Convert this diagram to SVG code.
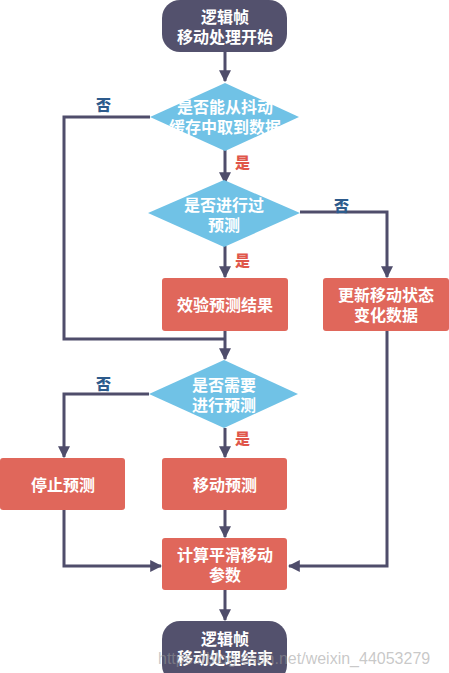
<svg xmlns="http://www.w3.org/2000/svg" width="449" height="673" viewBox="0 0 449 673">
<defs>
<style>
.term{fill:#53516d}
.dia{fill:#70c2e6}
.box{fill:#e0675b}
.t{font-family:"Noto Sans CJK SC","Noto Sans",sans-serif;font-weight:bold;font-size:16px;fill:#fff;text-anchor:middle}
.yes{font-family:"Noto Sans CJK SC",sans-serif;font-weight:900;font-size:15px;fill:#e0564a}
.no{font-family:"Noto Sans CJK SC",sans-serif;font-weight:900;font-size:15px;fill:#2d5b8c}
.ln{fill:none;stroke:#4f4d6b;stroke-width:3}
</style>
<marker id="ah" viewBox="0 0 10 10" refX="9" refY="5" markerWidth="4" markerHeight="4" markerUnits="strokeWidth" orient="auto">
<path d="M0,0 L10,5 L0,10 z" fill="#4f4d6b"/>
</marker>
</defs>
<rect width="449" height="673" fill="#fff"/>
<g id="connectors">
<path class="ln" d="M225,52 V81" marker-end="url(#ah)"/>
<path class="ln" d="M225,150 V183" marker-end="url(#ah)"/>
<path class="ln" d="M150,117 H64 V339 H225"/>
<path class="ln" d="M225,246 V277" marker-end="url(#ah)"/>
<path class="ln" d="M300,212 H387 V277" marker-end="url(#ah)"/>
<path class="ln" d="M225,331 V359" marker-end="url(#ah)"/>
<path class="ln" d="M225,428 V457" marker-end="url(#ah)"/>
<path class="ln" d="M149,394 H64 V457" marker-end="url(#ah)"/>
<path class="ln" d="M225,510 V537" marker-end="url(#ah)"/>
<path class="ln" d="M64,510 V566 H161" marker-end="url(#ah)"/>
<path class="ln" d="M387,331 V566 H289" marker-end="url(#ah)"/>
<path class="ln" d="M225,590 V620" marker-end="url(#ah)"/>
</g>
<g id="start">
<rect class="term" x="162" y="0" width="125" height="52" rx="18"/>
<text class="t" x="225" y="23">逻辑帧</text>
<text class="t" x="225" y="43">移动处理开始</text>
</g>
<g id="d1">
<polygon class="dia" points="225,83 299,117 225,151 150,117"/>
<text class="t" x="225" y="113">是否能从抖动</text>
<text class="t" x="225" y="133">缓存中取到数据</text>
</g>
<g id="d2">
<polygon class="dia" points="224,180 300,213 224,247 148,213"/>
<text class="t" x="224" y="211">是否进行过</text>
<text class="t" x="224" y="231">预测</text>
</g>
<g id="b1">
<rect class="box" x="162" y="278" width="126" height="53" rx="3"/>
<text class="t" x="225" y="311">效验预测结果</text>
</g>
<g id="b2">
<rect class="box" x="323" y="278" width="126" height="53" rx="3"/>
<text class="t" x="386" y="301">更新移动状态</text>
<text class="t" x="386" y="321">变化数据</text>
</g>
<g id="d3">
<polygon class="dia" points="224,360 298,394 224,428 149,394"/>
<text class="t" x="224" y="391">是否需要</text>
<text class="t" x="224" y="411">进行预测</text>
</g>
<g id="b3">
<rect class="box" x="0" y="458" width="125" height="52" rx="3"/>
<text class="t" x="63" y="491">停止预测</text>
</g>
<g id="b4">
<rect class="box" x="162" y="458" width="125" height="52" rx="3"/>
<text class="t" x="225" y="491">移动预测</text>
</g>
<g id="b5">
<rect class="box" x="162" y="538" width="125" height="52" rx="3"/>
<text class="t" x="225" y="561">计算平滑移动</text>
<text class="t" x="225" y="581">参数</text>
</g>
<g id="end">
<rect class="term" x="162" y="621" width="125" height="62" rx="18"/>
<text class="t" x="225" y="645">逻辑帧</text>
<text class="t" x="225" y="664">移动处理结束</text>
</g>
<g id="labels">
<text class="no" x="96" y="110">否</text>
<text class="yes" x="235" y="168">是</text>
<text class="no" x="334" y="211">否</text>
<text class="yes" x="235" y="266">是</text>
<text class="no" x="96" y="389">否</text>
<text class="yes" x="235" y="444">是</text>
</g>
<text x="158" y="664" font-family="Liberation Sans, Arial, sans-serif" font-size="16" fill="#9a9a9a" fill-opacity="0.55">https://blog.csdn.net/weixin_44053279</text>
</svg>
